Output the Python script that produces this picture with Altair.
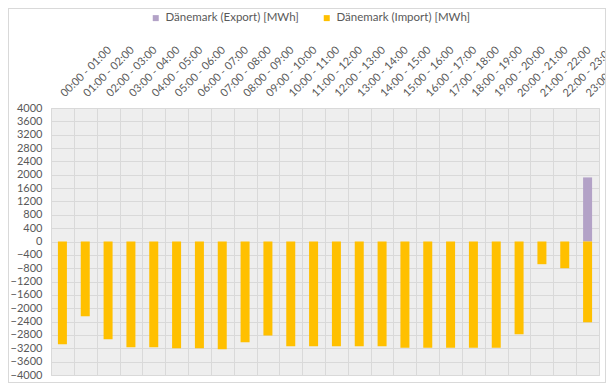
import altair as alt
import pandas as pd

hours = [
    "00:00 - 01:00", "01:00 - 02:00", "02:00 - 03:00", "03:00 - 04:00",
    "04:00 - 05:00", "05:00 - 06:00", "06:00 - 07:00", "07:00 - 08:00",
    "08:00 - 09:00", "09:00 - 10:00", "10:00 - 11:00", "11:00 - 12:00",
    "12:00 - 13:00", "13:00 - 14:00", "14:00 - 15:00", "15:00 - 16:00",
    "16:00 - 17:00", "17:00 - 18:00", "18:00 - 19:00", "19:00 - 20:00",
    "20:00 - 21:00", "21:00 - 22:00", "22:00 - 23:00", "23:00 - 00:00",
]
export_mwh = [0, 0, 0, 0, 0, 0, 0, 0, 0, 0, 0, 0,
              0, 0, 0, 0, 0, 0, 0, 0, 0, 0, 0, 1920]
import_mwh = [-3080, -2240, -2930, -3170, -3170, -3200, -3200, -3230,
              -3020, -2820, -3140, -3140, -3140, -3140, -3140, -3180,
              -3180, -3180, -3180, -3180, -2780, -680, -800, -2420]
series = ["Dänemark (Export) [MWh]", "Dänemark (Import) [MWh]"]
colors = ["#b3a2c7", "#ffc000"]
y_ticks = [-4000, -3600, -3200, -2800, -2400, -2000, -1600, -1200, -800, -400,
           0, 400, 800, 1200, 1600, 2000, 2400, 2800, 3200, 3600, 4000]

rows = []
for h, e, i in zip(hours, export_mwh, import_mwh):
    rows.append({"hour": h, "series": series[0], "value": e})
    rows.append({"hour": h, "series": series[1], "value": i})
df = pd.DataFrame(rows)

FONT = "Lato"
TXT = "#595959"
GRID = "#d9d9d9"

bars = alt.Chart(df).mark_bar(size=9).encode(
    x=alt.X(
        "hour:N", sort=hours,
        scale=alt.Scale(paddingInner=0, paddingOuter=0),
        axis=alt.Axis(
            orient="top", title=None, labelAngle=315, labelAlign="left",
            labelBaseline="middle", labelPadding=13, ticks=False, domain=False,
            grid=True, tickBand="extent", gridColor=GRID, gridWidth=1,
            labelFont=FONT, labelFontSize=11, labelColor=TXT,
            labelOverlap=False, labelBound=False, labelFlush=False,
        ),
    ),
    y=alt.Y(
        "value:Q", stack=None,
        scale=alt.Scale(domain=[-4000, 4000], nice=False, zero=False),
        axis=alt.Axis(
            values=y_ticks, title=None, ticks=False, domain=False,
            grid=True, gridColor=GRID, gridWidth=1, labelPadding=9,
            labelFont=FONT, labelFontSize=11, labelColor=TXT,
            labelOverlap=False, labelFlush=False, format="d",
        ),
    ),
    color=alt.Color(
        "series:N",
        scale=alt.Scale(domain=series, range=colors),
        legend=alt.Legend(
            title=None, orient="none", direction="horizontal",
            legendX=99, legendY=-96, symbolType="square", symbolSize=36,
            symbolStrokeWidth=0, labelFont=FONT, labelFontSize=11.5,
            labelColor=TXT, columnPadding=22, labelOffset=4, padding=0,
        ),
    ),
)

frame = alt.Chart(df).mark_rect(filled=False, stroke=GRID, strokeWidth=1).encode(
    x=alt.value(-42.5), x2=alt.value(554.5),
    y=alt.value(-99.5), y2=alt.value(274.5),
)

chart = alt.layer(bars, frame).properties(
    width=548, height=267,
    autosize=alt.AutoSizeParams(type="none"),
    padding={"left": 43, "top": 100, "right": 7, "bottom": 8},
    background="white",
).configure_view(stroke=GRID, fill="#eeeeee")

chart.save("out.html", embed_options={"renderer": "svg", "actions": False})
